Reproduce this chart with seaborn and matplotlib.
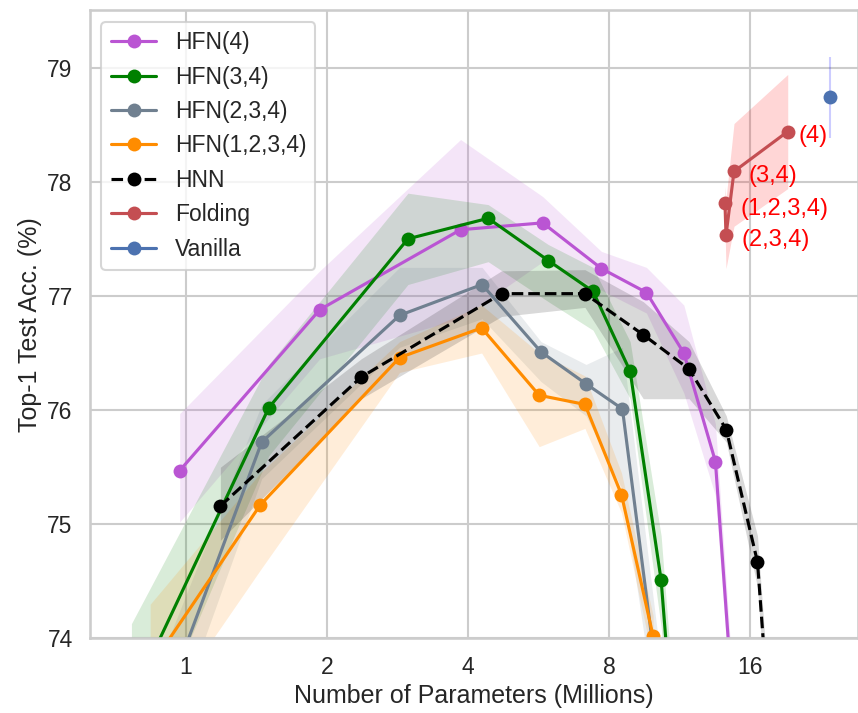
import matplotlib
matplotlib.use("Agg")
import matplotlib.pyplot as plt
from matplotlib.ticker import NullLocator
import seaborn as sns

# ---------------- data ----------------
hfn4_x = [0.971, 1.933, 3.86, 5.78, 7.71, 9.62, 11.56, 13.5, 14.9]
hfn4_y = [75.47, 76.88, 77.58, 77.64, 77.24, 77.03, 76.50, 75.55, 73.11]
hfn4_lo = [75.02, 76.45, 76.80, 77.30, 77.05, 76.85, 76.15, 75.25, 72.90]
hfn4_hi = [75.97, 77.22, 78.37, 77.87, 77.39, 77.25, 76.92, 75.88, 73.30]

hfn34_x = [0.766, 1.504, 2.98, 4.42, 5.94, 7.40, 8.88, 10.34, 10.8]
hfn34_y = [73.47, 76.02, 77.50, 77.68, 77.31, 77.04, 76.34, 74.51, 73.53]
hfn34_lo = [72.80, 75.60, 77.10, 77.30, 76.95, 76.70, 76.10, 74.10, 73.20]
hfn34_hi = [74.13, 76.40, 77.90, 77.80, 77.45, 77.25, 76.60, 74.90, 73.90]

hfn234_x = [0.88, 1.453, 2.86, 4.29, 5.73, 7.15, 8.55, 10.19]
hfn234_y = [73.32, 75.72, 76.83, 77.10, 76.51, 76.23, 76.01, 73.57]
hfn234_lo = [72.90, 75.40, 76.55, 76.80, 76.25, 75.95, 75.30, 73.20]
hfn234_hi = [73.80, 76.05, 77.25, 77.25, 76.60, 76.40, 76.55, 74.00]

hfn1234_x = [0.84, 1.443, 2.86, 4.28, 5.68, 7.11, 8.51, 9.94]
hfn1234_y = [73.75, 75.17, 76.46, 76.72, 76.13, 76.05, 75.26, 74.02]
hfn1234_lo = [73.20, 74.60, 76.33, 76.50, 75.68, 75.84, 75.10, 73.80]
hfn1234_hi = [74.30, 75.45, 76.60, 76.92, 76.50, 76.30, 75.45, 74.20]

hnn_x = [1.186, 2.37, 4.72, 7.11, 9.47, 11.86, 14.24, 16.6, 17.6]
hnn_y = [75.16, 76.29, 77.02, 77.02, 76.66, 76.36, 75.83, 74.67, 73.25]
hnn_lo = [74.86, 76.10, 76.82, 76.90, 76.10, 76.10, 75.72, 74.45, 73.00]
hnn_hi = [75.50, 76.45, 77.22, 77.23, 76.95, 76.60, 75.95, 74.90, 73.45]

fold_labels = ["(1,2,3,4)", "(2,3,4)", "(3,4)", "(4)"]
fold_x = [14.15, 14.22, 14.79, 19.26]
fold_y = [77.81, 77.53, 78.09, 78.44]
fold_lo = [77.60, 77.24, 77.61, 77.94]
fold_hi = [77.96, 77.85, 78.51, 78.94]

vanilla_x = [23.7]
vanilla_y = [78.74]
vanilla_lo = [78.38]
vanilla_hi = [79.09]

x_ticks = [1, 2, 4, 8, 16]
x_tick_labels = ["1", "2", "4", "8", "16"]
y_ticks = [74, 75, 76, 77, 78, 79]

# ---------------- style ----------------
sns.set_theme(style="whitegrid", context="talk")
plt.rcParams["font.family"] = ["Liberation Sans", "DejaVu Sans"]

fig = plt.figure(figsize=(8.58, 7.13), dpi=100)
ax = fig.add_axes([0.1049, 0.1045, 0.8951, 0.8808])

series = [
    ("HFN(4)", hfn4_x, hfn4_y, hfn4_lo, hfn4_hi, "mediumorchid", "-"),
    ("HFN(3,4)", hfn34_x, hfn34_y, hfn34_lo, hfn34_hi, "green", "-"),
    ("HFN(2,3,4)", hfn234_x, hfn234_y, hfn234_lo, hfn234_hi, "slategray", "-"),
    ("HFN(1,2,3,4)", hfn1234_x, hfn1234_y, hfn1234_lo, hfn1234_hi, "darkorange", "-"),
    ("HNN", hnn_x, hnn_y, hnn_lo, hnn_hi, "black", "--"),
]

for name, xs, ys, lo, hi, col, ls in series:
    ax.fill_between(xs, lo, hi, color=col, alpha=0.15, linewidth=0)
    sns.lineplot(x=xs, y=ys, ax=ax, color=col, marker="o", markersize=10,
                 markeredgewidth=0, linewidth=2.25, linestyle=ls,
                 label=name, errorbar=None, sort=False)

fold_color = "#C44E52"
ax.fill_between(fold_x, fold_lo, fold_hi, color="red", alpha=0.16, linewidth=0)
sns.lineplot(x=fold_x, y=fold_y, ax=ax, color=fold_color, marker="o",
             markersize=10, markeredgewidth=0, linewidth=2.25,
             label="Folding", errorbar=None, sort=False)

offsets = {"(1,2,3,4)": (11.3, -4.1), "(2,3,4)": (11.3, -3.1),
           "(3,4)": (10.3, -3.1), "(4)": (8.1, -3.1)}
for lab, xv, yv in zip(fold_labels, fold_x, fold_y):
    ax.annotate(lab, (xv, yv), xytext=offsets[lab], textcoords="offset points",
                color="red", fontsize=17, ha="left", va="center")

vanilla_color = "#4C72B0"
ax.vlines(vanilla_x, vanilla_lo, vanilla_hi, color="blue", alpha=0.2, linewidth=1.5)
sns.lineplot(x=vanilla_x, y=vanilla_y, ax=ax, color=vanilla_color, marker="o",
             markersize=10, markeredgewidth=0, linewidth=2.25,
             label="Vanilla", errorbar=None)

ax.set_xscale("log", base=2)
ax.set_xlim(0.625, 27.2)
ax.set_ylim(74, 79.5)
ax.set_xticks(x_ticks)
ax.set_xticklabels(x_tick_labels)
ax.xaxis.set_minor_locator(NullLocator())
ax.set_yticks(y_ticks)
ax.set_yticklabels([str(v) for v in y_ticks])
ax.set_xlabel("Number of Parameters (Millions)")
ax.set_ylabel("Top-1 Test Acc. (%)")
ax.legend(loc="upper left")

fig.savefig("out.png", dpi=100)
